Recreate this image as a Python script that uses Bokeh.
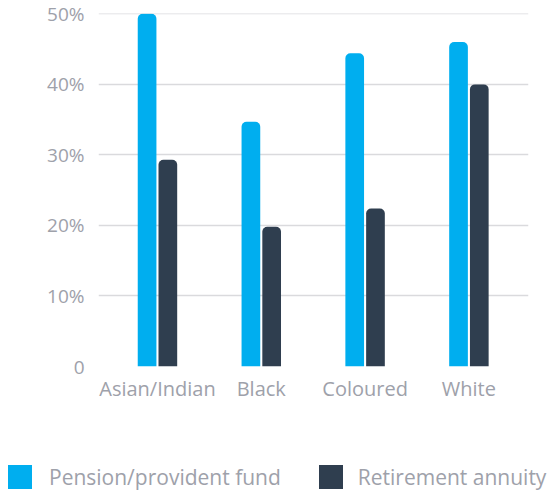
from bokeh.plotting import figure
from bokeh.layouts import column
from bokeh.models import (ColumnDataSource, Range1d, FixedTicker, Div)
from bokeh.transform import dodge
from bokeh.embed import file_html
from bokeh.resources import INLINE

categories = ["Asian/Indian", "Black", "Coloured", "White"]
pension = [50.0, 34.7, 44.4, 46.0]
annuity = [29.3, 19.8, 22.4, 40.0]
y_ticks = [0, 10, 20, 30, 40, 50]
y_labels = ["0", "10%", "20%", "30%", "40%", "50%"]
series_names = ["Pension/provident fund", "Retirement annuity"]

CYAN = "#00AEEF"
DARK = "#2F3E4F"
TXT = "#9EA1AA"
FONT = "Open Sans"

src = ColumnDataSource(dict(x=list(range(len(categories))), pension=pension, annuity=annuity))

p = figure(width=549, height=440, output_backend="svg", toolbar_location=None,
           x_range=Range1d(-0.568, 3.574), y_range=Range1d(0, 50.05),
           min_border_left=98, min_border_right=21, min_border_top=13, min_border_bottom=74,
           frame_width=430, frame_height=353)
p.outline_line_color = None
p.background_fill_color = "white"
p.border_fill_color = "white"

p.vbar(x=dodge("x", -0.1, range=p.x_range), top="pension", width=0.18, source=src,
       fill_color=CYAN, line_color=None, border_radius=(5, 5, 0, 0))
p.vbar(x=dodge("x", 0.1, range=p.x_range), top="annuity", width=0.18, source=src,
       fill_color=DARK, line_color=None, border_radius=(5, 5, 0, 0))

# axes
p.xaxis.ticker = FixedTicker(ticks=list(range(len(categories))))
p.xaxis.major_label_overrides = {i: c for i, c in enumerate(categories)}
p.yaxis.ticker = FixedTicker(ticks=y_ticks)
p.yaxis.major_label_overrides = {t: l for t, l in zip(y_ticks, y_labels)}
for ax in (p.xaxis[0], p.yaxis[0]):
    ax.axis_line_color = None
    ax.major_tick_line_color = None
    ax.minor_tick_line_color = None
    ax.major_label_text_font = FONT
    ax.major_label_text_color = TXT
p.yaxis.major_label_text_font_size = "19px"
p.xaxis.major_label_text_font_size = "20px"
p.yaxis.major_label_standoff = 8
p.xaxis.major_label_standoff = 2

p.xgrid.grid_line_color = None
p.ygrid.ticker = FixedTicker(ticks=y_ticks[1:])
p.ygrid.grid_line_color = "#DADADD"
p.ygrid.grid_line_width = 1.5

# legend as an HTML strip under the chart
sq = "display:inline-block;width:24px;height:24px;flex:none;"
html = (
    f'<div style="display:flex;align-items:center;white-space:nowrap;'
    f'font-family:\'{FONT}\';font-size:21px;color:{TXT};padding:22px 0 0 8px;">'
    f'<span style="{sq}background:{CYAN};margin-right:17px"></span>'
    f'<span>{series_names[0]}</span>'
    f'<span style="{sq}background:{DARK};margin-left:38px;margin-right:15px"></span>'
    f'<span>{series_names[1]}</span></div>'
)
legend_div = Div(text=html, width=549, height=47, margin=(0, 0, 0, 0))

open("out.html", "w").write(file_html(column(p, legend_div, spacing=0), INLINE))
